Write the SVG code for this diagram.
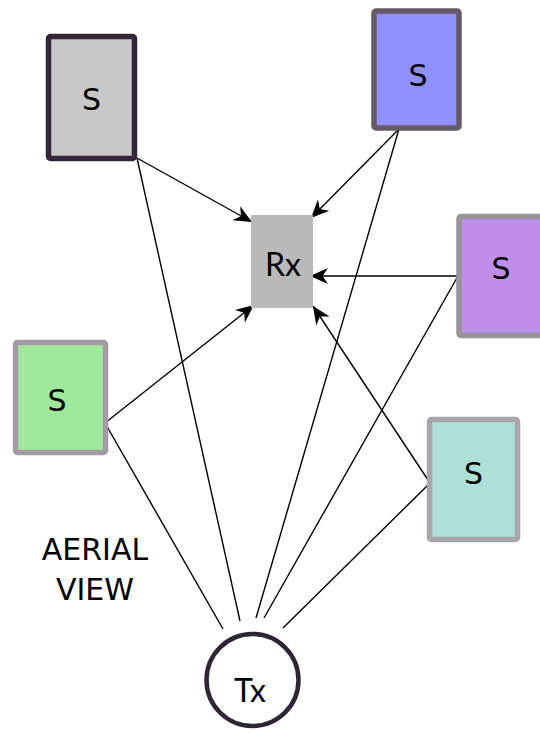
<svg xmlns="http://www.w3.org/2000/svg" width="540" height="733" viewBox="0 0 540 733">
<style>
.s{stroke-width:5.5;stroke-linejoin:round}
.lbl{font-family:"DejaVu Sans",sans-serif;font-size:30px;text-anchor:middle;fill:#000}
.lb2{font-family:Lato,"DejaVu Sans",sans-serif;font-size:32px;text-anchor:middle;fill:#000}
.c line{stroke:#000;stroke-width:1.4;fill:none}
.c line.a{marker-end:url(#ah)}
</style>
<defs>
<marker id="ah" markerUnits="userSpaceOnUse" viewBox="-19 -9 20 18" refX="0" refY="0" markerWidth="20" markerHeight="18" orient="auto">
<path d="M0,0 L-18,-8 L-12.5,0 L-18,8 Z" fill="#000"/>
</marker>
</defs>
<rect width="540" height="733" fill="#fff"/>
<g class="c" id="connectors">
<line class="a" x1="137" y1="158" x2="252" y2="222"/>
<line x1="137" y1="158" x2="240" y2="621"/>
<line class="a" x1="399" y1="129" x2="311" y2="218"/>
<line x1="399" y1="129" x2="256" y2="618"/>
<line class="a" x1="458" y1="276" x2="310" y2="276"/>
<line x1="458" y1="276" x2="264" y2="618"/>
<line class="a" x1="105" y1="423" x2="254" y2="305"/>
<line x1="105" y1="423" x2="223" y2="629"/>
<line class="a" x1="430" y1="483" x2="313" y2="306"/>
<line x1="430" y1="483" x2="283" y2="628"/>
</g>
<g id="rx">
<rect x="251" y="215" width="62" height="93" fill="#b9b9b9"/>
<text class="lb2" x="283" y="276">Rx</text>
</g>
<g id="s-gray">
<rect class="s" x="48.5" y="36.5" width="86" height="122" rx="2" fill="#c8c8c8" stroke="#33263a"/>
<text class="lbl" x="91.5" y="110">S</text>
</g>
<g id="s-blue">
<rect class="s" x="374" y="11" width="85" height="117" rx="2" fill="#9090ff" stroke="#665a66"/>
<text class="lbl" x="418" y="86">S</text>
</g>
<g id="s-purple">
<rect class="s" x="459" y="216.5" width="86" height="119" rx="2" fill="#bf8ee8" stroke="#999399"/>
<text class="lbl" x="501" y="279">S</text>
</g>
<g id="s-green">
<rect class="s" x="15.5" y="342.5" width="90" height="110" rx="2" fill="#a0e99c" stroke="#a39ba3"/>
<text class="lbl" x="57" y="411">S</text>
</g>
<g id="s-teal">
<rect class="s" x="429.5" y="419.5" width="88" height="120" rx="2" fill="#aee0d8" stroke="#aaa5aa"/>
<text class="lbl" x="473.5" y="484">S</text>
</g>
<g id="tx">
<circle cx="252.5" cy="680" r="46" fill="#fff" stroke="#2f2433" stroke-width="4.5"/>
<text class="lb2" x="250" y="702">Tx</text>
</g>
<g id="label">
<text class="lbl" x="95" y="560">AERIAL</text>
<text class="lbl" x="95" y="600">VIEW</text>
</g>
</svg>
